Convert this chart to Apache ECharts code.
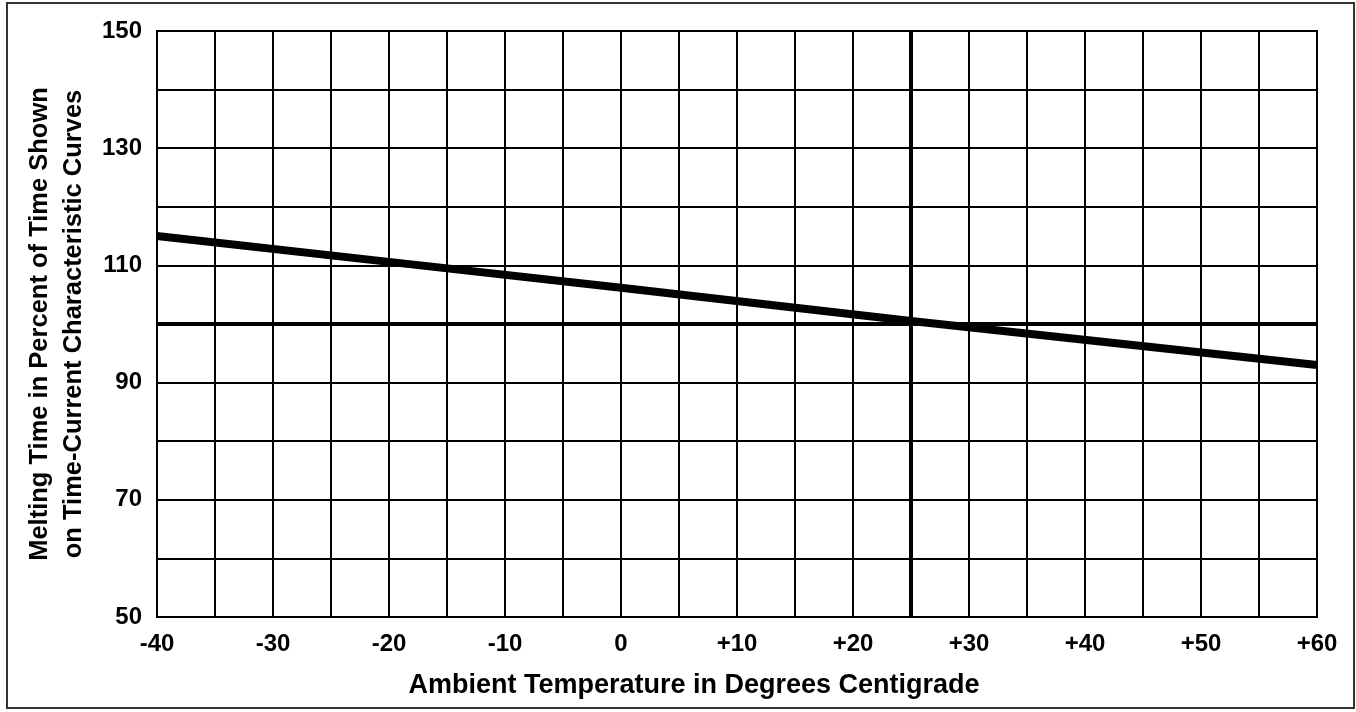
<!DOCTYPE html>
<html>
<head>
<meta charset="utf-8">
<script src="https://cdn.jsdelivr.net/npm/echarts@6/dist/echarts.min.js"></script>
<style>
  html, body { margin: 0; padding: 0; background: #fff; }
  #myChart { width: 1356px; height: 712px; }
</style>
</head>
<body>
<div id="myChart"></div>
<script>
  // values
  const temps = [-40, -20, 0, 25, 60];
  const meltPct = [115, 110.6, 106.2, 100.5, 93];
  const refTemp = 25;
  const refPct = 100;

  const font = '"Liberation Sans", Arial, Helvetica, sans-serif';

  let myChart = echarts.init(document.getElementById('myChart'));
  let option = {
    backgroundColor: '#fff',
    animation: false,
    graphic: [{
      type: 'rect',
      shape: { x: 7, y: 3, width: 1347, height: 705 },
      style: { fill: 'none', stroke: '#333', lineWidth: 2 }
    }],
    grid: {
      left: 157, right: 39, top: 31, bottom: 95,
      show: true, borderColor: '#000', borderWidth: 2
    },
    xAxis: {
      type: 'value',
      min: -40, max: 60, interval: 5,
      name: 'Ambient Temperature in Degrees Centigrade',
      nameLocation: 'middle',
      nameGap: 55,
      nameTextStyle: {
        color: '#000', fontWeight: 'bold', fontSize: 27, fontFamily: font,
        padding: [0, 86, 0, 0]
      },
      axisLine: { lineStyle: { color: '#000', width: 2 } },
      axisTick: { show: false },
      axisLabel: {
        color: '#000', fontWeight: 'bold', fontSize: 24, fontFamily: font, margin: 15,
        formatter: function (v) {
          if (v % 10 !== 0) return '';
          return v > 0 ? '+' + v : String(v);
        }
      },
      splitLine: { show: true, lineStyle: { color: '#000', width: 2 } }
    },
    yAxis: {
      type: 'value',
      min: 50, max: 150, interval: 10,
      name: 'Melting Time in Percent of Time Shown\non Time-Current Characteristic Curves',
      nameLocation: 'middle',
      nameGap: 65,
      nameTextStyle: { color: '#000', fontWeight: 'bold', fontSize: 25.5, lineHeight: 34, fontFamily: font },
      axisLine: { lineStyle: { color: '#000', width: 2 } },
      axisTick: { show: false },
      axisLabel: {
        color: '#000', fontWeight: 'bold', fontSize: 24, fontFamily: font, margin: 15,
        formatter: function (v) {
          return (v - 50) % 20 === 0 ? String(v) : '';
        }
      },
      splitLine: { show: true, lineStyle: { color: '#000', width: 2 } }
    },
    series: [{
      type: 'line',
      data: temps.map(function (t, i) { return [t, meltPct[i]]; }),
      showSymbol: false,
      lineStyle: { color: '#000', width: 8 },
      markLine: {
        silent: true,
        symbol: 'none',
        label: { show: false },
        lineStyle: { color: '#000', width: 4, type: 'solid' },
        data: [{ xAxis: refTemp }, { yAxis: refPct }]
      }
    }]
  };
  myChart.setOption(option);
</script>
</body>
</html>
